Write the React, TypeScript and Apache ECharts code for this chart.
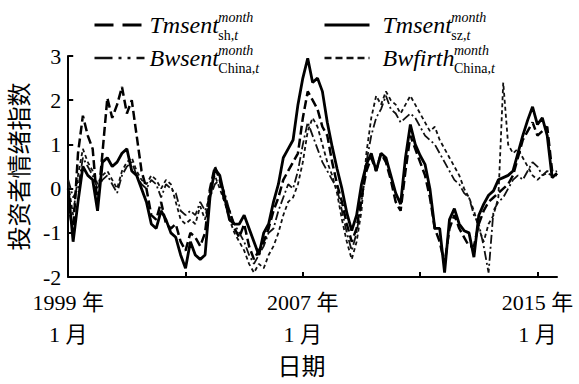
import React, { useEffect, useRef } from 'react';
import * as echarts from 'echarts';

// Monthly index: 0 = 1999-01; values sampled every 2 months
const START_MONTH = 0;
const STEP_MONTHS = 2;

const tmsentSh = [
  -0.3, -1.0, 0.8, 1.65, 1.2, 0.9, -0.4, 0.8, 2.05, 1.6,
  1.9, 2.3, 1.7, 2.0, 1.2, 0.4, 0.0, -0.6, -0.7, -0.3,
  -0.8, -0.9, -0.8, -1.2, -1.4, -1.0, -1.1, -1.3, -1.0, 0.0,
  0.5, 0.2, -0.3, -0.5, -0.9, -1.1, -0.8, -1.3, -1.6, -1.4,
  -1.2, -0.9, -0.5, -0.2, 0.2, 0.4, 0.6, 0.8, 1.6, 2.2,
  2.0, 1.8, 1.4, 1.2, 0.6, 0.1, -0.3, -0.8, -1.2, -0.9,
  -0.2, 0.4, 0.7, 0.4, 0.8, 0.6, 0.2, -0.3, -0.5, 0.4,
  1.2, 0.9, 0.6, 0.3, -0.2, -0.9, -1.2, -1.7, -0.9, -0.6,
  -0.9, -1.1, -1.3, -1.3, -0.8, -0.5, -0.3, -0.2, -0.1, 0.0,
  0.1, 0.3, 0.7, 1.1, 1.3, 1.5, 1.2, 1.3, 1.4, 0.4,
  0.3,
];

const tmsentSz = [
  0.0, -1.2, -0.3, 0.5, 0.3, 0.2, -0.5, 0.6, 0.7, 0.5,
  0.6, 0.8, 0.9, 0.4, 0.3, 0.0, -0.3, -0.8, -0.9, -0.5,
  -0.7, -1.0, -1.1, -1.5, -1.8, -1.2, -1.5, -1.6, -1.5, -0.2,
  0.45, 0.3, -0.2, -0.7, -0.8, -0.8, -0.6, -0.9, -1.2, -1.5,
  -1.0, -0.8, -0.3, 0.1, 0.7, 0.9, 1.1, 1.9, 2.5, 2.95,
  2.4, 2.5, 2.2, 1.5, 0.95, 0.45, 0.0, -0.55, -0.95, -0.6,
  0.1, 0.55, 0.8, 0.4, 0.8, 0.7, 0.3, -0.1, -0.35, 0.7,
  1.45, 1.0, 0.75, 0.55, 0.0, -0.9, -0.9, -1.9, -0.7, -0.45,
  -0.8, -0.95, -1.0, -1.55, -0.6, -0.35, -0.15, -0.05, 0.2, 0.25,
  0.3, 0.4, 0.8, 1.2, 1.55, 1.85, 1.45, 1.6, 1.2, 0.25,
  0.35,
];

const bwsentChina = [
  0.2, -0.2, 0.0, 0.7, 0.5, 0.3, 0.0, 0.2, 0.3, 0.1,
  -0.1, 0.3, 0.5, 0.6, 0.3, 0.1, 0.0, 0.2, 0.1, -0.2,
  0.1, 0.0, -0.1, -0.5, -0.6, -0.5, -0.6, -0.3, -0.5, -0.2,
  0.1, 0.2, -0.1, -0.5, -0.8, -1.0, -1.2, -1.5, -1.7, -1.5,
  -1.3, -1.0, -0.9, -0.5, -0.2, 0.1, 0.0, 0.4, 1.0, 1.5,
  1.2, 0.9, 0.6, 0.4, 0.2, 0.0, -0.5, -1.0, -1.4, -1.0,
  -0.3, 0.6, 1.2, 1.6, 1.8, 2.1, 1.8, 1.7, 1.5, 1.6,
  1.7, 1.6, 1.4, 1.2, 1.1, 1.0, 0.8, 0.6, 0.4, 0.2,
  0.1, -0.1, -0.2, -0.6, -0.8, -1.3, -1.9, -0.5, -0.3, -0.2,
  0.0, 0.2, 0.3, 0.2, 0.4, 0.6, 0.5, 0.3, 0.4, 0.35,
  0.4,
];

const bwfirthChina = [
  0.1, -0.6, 0.3, 0.9, 0.6, 0.4, 0.1, 0.3, 0.4, 0.2,
  0.0, 0.4, 0.6, 0.7, 0.4, 0.2, 0.1, 0.3, 0.2, 0.0,
  0.2, 0.1, -0.3, -0.7, -0.8, -0.7, -0.8, -0.4, -0.7, 0.0,
  0.3, 0.0, -0.3, -0.7, -1.0, -1.2, -1.4, -1.7, -1.9, -1.7,
  -1.8, -1.5, -1.3, -1.0, -0.6, -0.3, -0.2, 0.1, 0.6, 1.3,
  1.6, 1.4, 1.0, 0.6, 0.3, -0.1, -0.7, -1.2, -1.6, -1.2,
  -0.5, 0.8, 1.6, 2.1, 1.9, 2.2, 2.0, 1.9, 1.7, 1.9,
  2.1, 1.9, 1.7, 1.5, 1.3, 1.4, 1.1, 0.9, 0.7, 0.5,
  0.3, 0.0, -0.2, -0.5, -0.9, -1.2, -0.8, -0.6, -0.2, 2.4,
  1.0, 0.8, 0.9, 0.7, 0.5, 0.3, 0.2, 0.3, 0.35, 0.3,
  0.3,
];

const xTickMonths = [0, 48, 96, 144, 192];
const xLabelMonths = [0, 96, 192];
const yMin = -2;
const yMax = 3;

const SERIF = "'Liberation Serif', 'Noto Sans CJK SC', serif";

const legendMain: Record<string, string> = {
  Tmsent_sh: 'Tmsent',
  Tmsent_sz: 'Tmsent',
  Bwsent_China: 'Bwsent',
  Bwfirth_China: 'Bwfirth',
};
const legendSub: Record<string, string> = {
  Tmsent_sh: 'sh,',
  Tmsent_sz: 'sz,',
  Bwsent_China: 'China,',
  Bwfirth_China: 'China,',
};

const toPairs = (arr: number[]) => arr.map((v, i) => [START_MONTH + i * STEP_MONTHS, v]);

export default function App() {
  const ref = useRef<HTMLDivElement>(null);

  useEffect(() => {
    if (!ref.current) return;
    const chart = echarts.init(ref.current, null, { renderer: 'svg' });

    const canvas = document.createElement('canvas');
    const ctx = canvas.getContext('2d')!;
    ctx.font = "italic 24px 'Liberation Serif'";
    const mw = (s: string) => ctx.measureText(s).width;

    const col1Left = 93;
    const col1ItemW = 50;
    const col1Text = col1Left + col1ItemW + 5;
    const col2Left = 323;
    const col2ItemW = 45;
    const col2Pad = 8;
    const col2Text = col2Left + col2ItemW + 5 + col2Pad;
    const row1 = 25;
    const row2 = 58;
    const textH = 24;

    const subRich = {
      r: { fontFamily: SERIF, fontSize: 14, color: '#000' },
      i: { fontFamily: SERIF, fontSize: 14, fontStyle: 'italic', color: '#000' },
    };
    const subText = (name: string, x: number, y: number) => ({
      type: 'text',
      x,
      y,
      style: {
        text: `{r|${legendSub[name]}}{i|t}`,
        rich: subRich,
        verticalAlign: 'middle',
        align: 'left',
      },
    });
    const supText = (x: number, y: number) => ({
      type: 'text',
      x,
      y,
      style: {
        text: 'month',
        fontFamily: SERIF,
        fontSize: 14,
        fontStyle: 'italic',
        fill: '#000',
        verticalAlign: 'middle',
        align: 'left',
      },
    });

    const legendText = (padLeft: number) => ({
      fontFamily: SERIF,
      fontSize: 24,
      fontStyle: 'italic',
      color: '#000',
      lineHeight: textH,
      padding: [0, 0, 0, padLeft],
    });

    const hideSymbol = { opacity: 0, color: 'transparent', borderWidth: 0 };

    const option: any = {
      animation: false,
      backgroundColor: '#fff',
      textStyle: { fontFamily: SERIF, color: '#000' },
      grid: { left: 65, right: 22, top: 56, bottom: 99, containLabel: false },
      legend: [
        {
          left: col1Left,
          top: row1 - textH / 2,
          orient: 'vertical',
          padding: 0,
          itemGap: row2 - row1 - textH,
          itemWidth: col1ItemW,
          itemHeight: 14,
          selectedMode: false,
          itemStyle: hideSymbol,
          data: [
            { name: 'Tmsent_sh', lineStyle: { width: 3, type: [19, 9] }, itemStyle: hideSymbol },
            { name: 'Bwsent_China', lineStyle: { width: 2.5, type: [18, 6, 3, 6, 3, 6] }, itemStyle: hideSymbol },
          ],
          formatter: (n: string) => legendMain[n],
          textStyle: legendText(0),
        },
        {
          left: col2Left,
          top: row1 - textH / 2,
          orient: 'vertical',
          padding: 0,
          itemGap: row2 - row1 - textH,
          itemWidth: col2ItemW,
          itemHeight: 14,
          selectedMode: false,
          itemStyle: hideSymbol,
          data: [
            { name: 'Tmsent_sz', lineStyle: { width: 3, type: 'solid' }, itemStyle: hideSymbol },
            { name: 'Bwfirth_China', lineStyle: { width: 2.5, type: [7, 4] }, itemStyle: hideSymbol },
          ],
          formatter: (n: string) => legendMain[n],
          textStyle: legendText(col2Pad),
        },
      ],
      graphic: [
        supText(col1Text + mw('Tmsent') + 1, row1 - 8),
        subText('Tmsent_sh', col1Text + mw('Tmsent') + 1, row1 + 10),
        supText(col1Text + mw('Bwsent') + 1, row2 - 8),
        subText('Bwsent_China', col1Text + mw('Bwsent') + 1, row2 + 10),
        supText(col2Text + mw('Tmsent') + 1, row1 - 8),
        subText('Tmsent_sz', col2Text + mw('Tmsent') + 1, row1 + 10),
        supText(col2Text + mw('Bwfirth') + 1, row2 - 8),
        subText('Bwfirth_China', col2Text + mw('Bwfirth') + 1, row2 + 10),
      ],
      xAxis: {
        type: 'value',
        min: 0,
        max: 200,
        name: '日期',
        nameLocation: 'middle',
        nameGap: 75,
        nameTextStyle: { fontSize: 24, color: '#000', fontFamily: SERIF, padding: [0, 22, 0, 0] },
        axisLine: { onZero: false, lineStyle: { color: '#000', width: 2 } },
        axisTick: { inside: true, length: 5, lineStyle: { color: '#000', width: 2 }, customValues: xTickMonths },
        axisLabel: {
          customValues: xLabelMonths,
          margin: 9,
          fontSize: 22,
          lineHeight: 32,
          color: '#000',
          fontFamily: SERIF,
          formatter: (v: number) => `${1999 + Math.round(v / 12)} 年\n1 月`,
        },
        splitLine: { show: false },
      },
      yAxis: {
        type: 'value',
        min: yMin,
        max: yMax,
        interval: 1,
        name: '投资者情绪指数',
        nameLocation: 'middle',
        nameGap: 28,
        nameTextStyle: { fontSize: 24, color: '#000', fontFamily: SERIF },
        axisLine: { show: true, onZero: false, lineStyle: { color: '#000', width: 2 } },
        axisTick: { show: true, inside: true, length: 5, lineStyle: { color: '#000', width: 2 } },
        axisLabel: { margin: 7, fontSize: 22, color: '#000', fontFamily: SERIF },
        splitLine: { show: false },
      },
      series: [
        {
          name: 'Bwfirth_China',
          type: 'line',
          symbol: 'none',
          data: toPairs(bwfirthChina),
          itemStyle: { color: '#111' },
          lineStyle: { color: '#111', width: 1.8, type: [4, 3] },
        },
        {
          name: 'Bwsent_China',
          type: 'line',
          symbol: 'none',
          data: toPairs(bwsentChina),
          itemStyle: { color: '#111' },
          lineStyle: { color: '#111', width: 1.8, type: [9, 3, 2, 3] },
        },
        {
          name: 'Tmsent_sh',
          type: 'line',
          symbol: 'none',
          data: toPairs(tmsentSh),
          itemStyle: { color: '#000' },
          lineStyle: { color: '#000', width: 2.5, type: [9, 4] },
        },
        {
          name: 'Tmsent_sz',
          type: 'line',
          symbol: 'none',
          data: toPairs(tmsentSz),
          itemStyle: { color: '#000' },
          lineStyle: { color: '#000', width: 2.8, type: 'solid' },
        },
      ],
    };

    chart.setOption(option);
    return () => chart.dispose();
  }, []);

  return (
    <div
      ref={ref}
      style={{ position: 'fixed', left: 0, top: 0, width: 579, height: 384, background: '#fff' }}
    />
  );
}
